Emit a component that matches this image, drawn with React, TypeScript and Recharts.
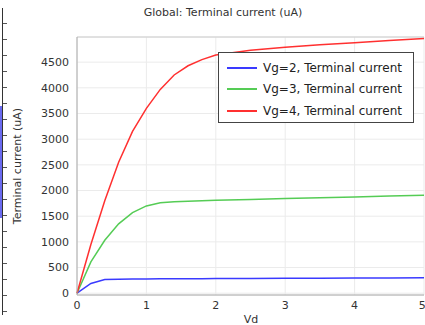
import React from 'react';
import { LineChart, Line, XAxis, YAxis, CartesianGrid, Legend, ReferenceLine } from 'recharts';

const vd = [0, 0.2, 0.4, 0.6, 0.8, 1.0, 1.2, 1.4, 1.6, 1.8, 2.0, 2.5, 3.0, 3.5, 4.0, 4.5, 5.0];
const vg2 = [0, 190, 265, 274, 277, 279, 280, 281, 282, 283, 284, 286, 289, 292, 295, 298, 300];
const vg3 = [0, 610, 1030, 1350, 1570, 1700, 1760, 1780, 1790, 1800, 1808, 1825, 1845, 1860, 1875, 1893, 1910];
const vg4 = [0, 950, 1800, 2550, 3150, 3600, 3970, 4250, 4430, 4550, 4640, 4730, 4790, 4840, 4880, 4920, 4960];

const xTicks = [0, 1, 2, 3, 4, 5];
const yTicks = [0, 500, 1000, 1500, 2000, 2500, 3000, 3500, 4000, 4500];
const yMax = 4990;

const seriesNames = ['Vg=2, Terminal current', 'Vg=3, Terminal current', 'Vg=4, Terminal current'];
const seriesColors = ['#3a3aff', '#55cc55', '#ff3030'];

const data = vd.map((v, i) => ({ vd: v, vg2: vg2[i], vg3: vg3[i], vg4: vg4[i] }));

const font = '"DejaVu Sans", sans-serif';

const LegendBox = () => (
    <div style={{
        border: '1.5px solid #444',
        background: '#fff',
        width: 196,
        height: 71,
        boxSizing: 'border-box',
        padding: '4px 0 0 8px',
        fontFamily: font,
        fontSize: 12,
        color: '#222'
    }}>
        {seriesNames.map((name, i) => (
            <div key={name} style={{ display: 'flex', alignItems: 'center', height: 21.5 }}>
                <span style={{ display: 'inline-block', width: 30, height: 0, borderTop: `2px solid ${seriesColors[i]}`, marginRight: 6 }} />
                <span>{name}</span>
            </div>
        ))}
    </div>
);

export default function App() {
    return (
        <div style={{ position: 'absolute', left: 0, top: 0, width: 425, height: 325, overflow: 'hidden', background: '#fff' }}>
            {/* cropped edge of the neighbouring figure */}
            <div style={{ position: 'absolute', left: 2, top: 8, width: 1, height: 307, background: '#333' }} />
            <div style={{
                position: 'absolute', left: 3, top: 8, width: 4, height: 307,
                backgroundImage: 'repeating-linear-gradient(to bottom, transparent 0, transparent 15px, #555 15px, #555 16px)'
            }} />
            <div style={{ position: 'absolute', left: 0, top: 106, width: 2, height: 112, background: '#6a6af0' }} />

            <div style={{ position: 'absolute', left: 0, width: 446, top: 6, textAlign: 'center', fontFamily: font, fontSize: 11, color: '#333' }}>
                Global: Terminal current (uA)
            </div>
            <div style={{
                position: 'absolute', left: 17, top: 166, transform: 'translate(-50%, -50%) rotate(-90deg)',
                whiteSpace: 'nowrap', fontFamily: font, fontSize: 11, color: '#333'
            }}>
                Terminal current (uA)
            </div>
            <div style={{ position: 'absolute', left: 251, top: 319, transform: 'translate(-50%, -50%)', fontFamily: font, fontSize: 11, color: '#333' }}>
                Vd
            </div>

            <LineChart
                width={425}
                height={325}
                data={data}
                margin={{ top: 37, right: 1, left: 0, bottom: 0 }}
                style={{ fontFamily: font }}
            >
                <CartesianGrid stroke="#ebebeb" strokeWidth={1} />
                <XAxis
                    dataKey="vd"
                    type="number"
                    domain={[0, 5]}
                    ticks={xTicks}
                    height={30}
                    tickLine={false}
                    tickSize={4}
                    tickMargin={2}
                    stroke="#aaa"
                    tick={{ fill: '#333', fontSize: 11 }}
                />
                <YAxis
                    type="number"
                    domain={[-35, yMax]}
                    ticks={yTicks}
                    width={77}
                    tickLine={false}
                    stroke="#aaa"
                    tick={{ fill: '#333', fontSize: 11 }}
                />
                <ReferenceLine y={yMax} stroke="#cccccc" strokeWidth={1} />
                <Legend
                    layout="vertical"
                    align="center"
                    verticalAlign="middle"
                    content={<LegendBox />}
                    wrapperStyle={{ left: 218, top: 52, width: 196, height: 71 }}
                />
                <Line dataKey="vg2" name={seriesNames[0]} stroke={seriesColors[0]} strokeWidth={1.5} dot={false} isAnimationActive={false} />
                <Line dataKey="vg3" name={seriesNames[1]} stroke={seriesColors[1]} strokeWidth={1.5} dot={false} isAnimationActive={false} />
                <Line dataKey="vg4" name={seriesNames[2]} stroke={seriesColors[2]} strokeWidth={1.5} dot={false} isAnimationActive={false} />
            </LineChart>
        </div>
    );
}
